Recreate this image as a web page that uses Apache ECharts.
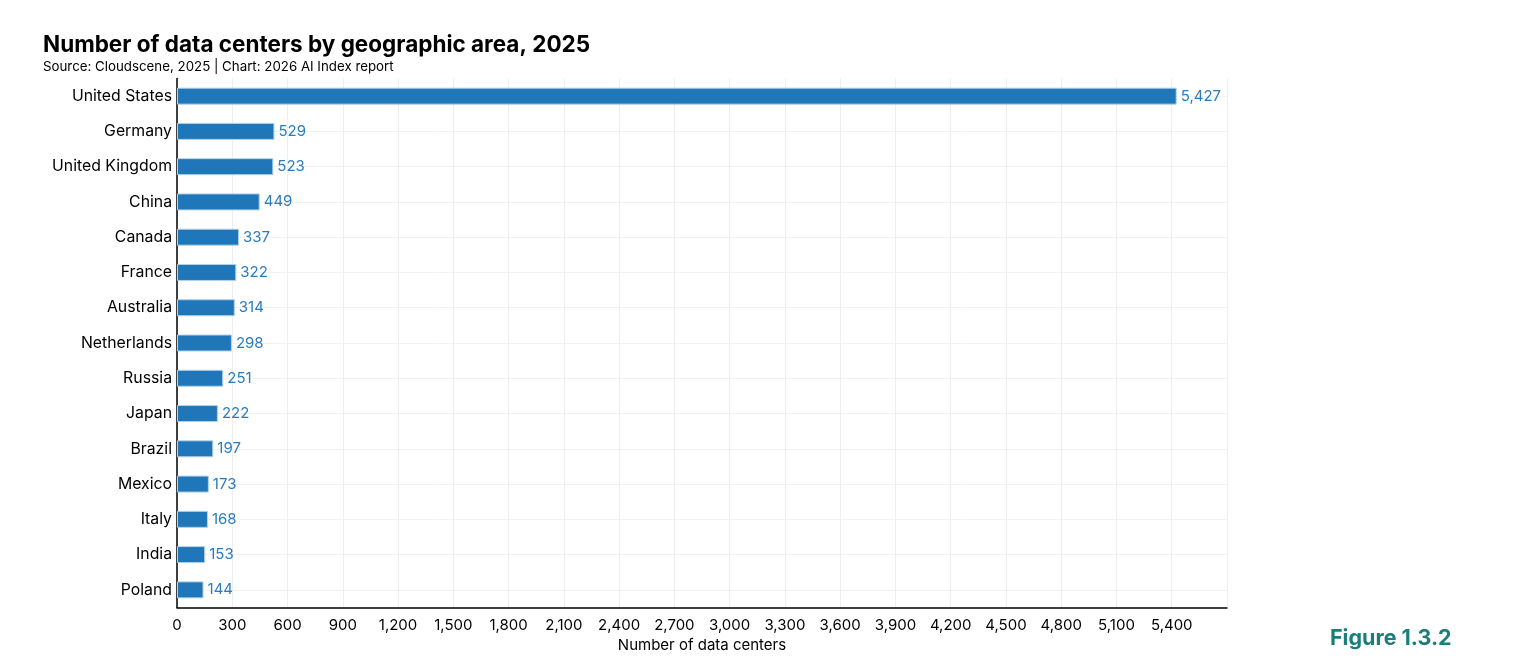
<!DOCTYPE html>
<html><head><meta charset="utf-8">
<script src="https://cdn.jsdelivr.net/npm/echarts@6/dist/echarts.min.js"></script>
<style>html,body{margin:0;padding:0;background:#fff}#c{width:1531px;height:672px}</style>
</head><body><div id="c"></div>
<script>
const categories = ["United States","Germany","United Kingdom","China","Canada","France","Australia","Netherlands","Russia","Japan","Brazil","Mexico","Italy","India","Poland"];
const values = [5427,529,523,449,337,322,314,298,251,222,197,173,168,153,144];
const xTicks = {min:0, max:5700, interval:300};

const chart = echarts.init(document.getElementById('c'));
const font = 'Inter, "Open Sans", sans-serif';
chart.setOption({
  backgroundColor:'#fff',
  animation:false,
  title:[{text:'Number of data centers by geographic area, 2025', left:43, top:34, padding:0,
    textStyle:{fontFamily:font, fontSize:22.5, fontWeight:'bold', color:'#000'}},
    {text:'Source: Cloudscene, 2025 | Chart: 2026 AI Index report', left:43, top:60, padding:0,
    textStyle:{fontFamily:font, fontSize:13.3, fontWeight:'normal', color:'#000'}},
    {text:'Figure 1.3.2', left:1330, top:628, padding:0, textStyle:{fontFamily:font, fontSize:21.5, fontWeight:'bold', color:'#1a7f7b'}}],
  grid:{left:177, right:304, top:78.5, bottom:64.5, containLabel:false},
  xAxis:{type:'value', min:xTicks.min, max:xTicks.max, interval:xTicks.interval,
    name:'Number of data centers', nameLocation:'middle', nameGap:30,
    nameTextStyle:{fontFamily:font, fontSize:15, color:'#000'},
    axisLine:{show:true, lineStyle:{color:'#000', width:1.5}},
    axisTick:{show:false},
    axisLabel:{fontFamily:font, fontSize:15, color:'#000', margin:10, showMaxLabel:false,
      formatter:v=>v.toLocaleString('en-US')},
    splitLine:{show:true, lineStyle:{color:'#eeeeee', width:1}}},
  yAxis:{type:'category', data:categories, inverse:true,
    axisLine:{show:true, lineStyle:{color:'#000', width:1.5}},
    axisTick:{show:false},
    axisLabel:{fontFamily:font, fontSize:15.8, color:'#000', margin:5},
    splitLine:{show:true, alignWithLabel:true, lineStyle:{color:'#f2f2f2', width:1}}},
  series:[{type:'bar', data:values, barWidth:17,
    itemStyle:{color:'#1f77b9', borderColor:'#b3d2ea', borderWidth:1},
    label:{show:true, position:'right', distance:4, fontFamily:font, fontSize:15, color:'#2b7bbf',
      formatter:p=>p.value.toLocaleString('en-US')}}]
});
</script></body></html>
